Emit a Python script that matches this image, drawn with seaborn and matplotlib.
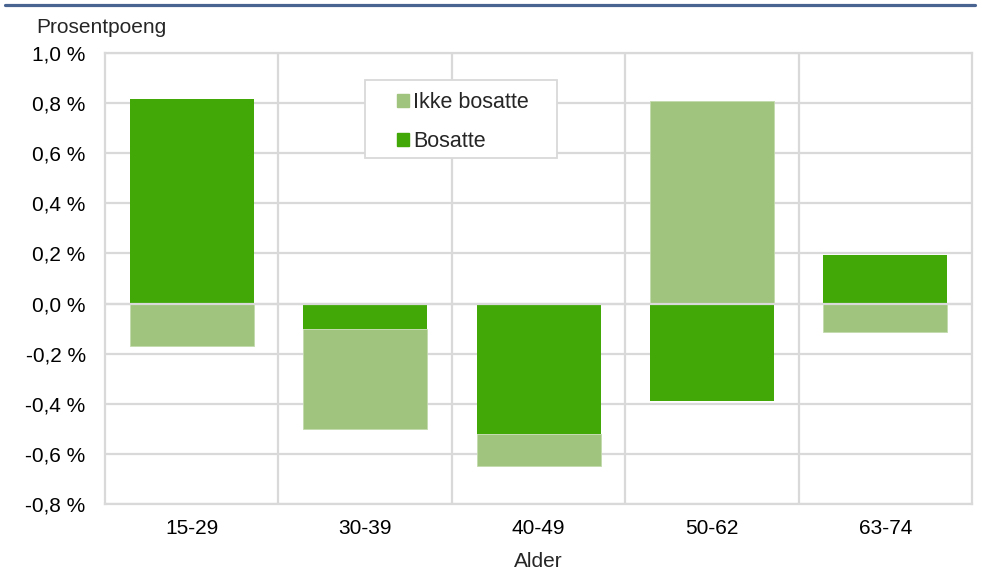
import numpy as np
import pandas as pd
import matplotlib.pyplot as plt
from matplotlib.lines import Line2D
from matplotlib.patches import Patch, Rectangle
import seaborn as sns

# data (prosentpoeng)
alder = ['15-29', '30-39', '40-49', '50-62', '63-74']
bosatte = [0.815, -0.10, -0.52, -0.39, 0.195]
ikke_bosatte = [-0.17, -0.40, -0.13, 0.81, -0.115]
yticks = [-0.8, -0.6, -0.4, -0.2, 0.0, 0.2, 0.4, 0.6, 0.8, 1.0]

dark = '#41A808'
light = '#A0C37E'
grid = '#D9D9D9'

sns.set_style('white')
plt.rcParams['font.family'] = ['Liberation Sans', 'DejaVu Sans']

df = pd.DataFrame({'Alder': alder, 'Bosatte': bosatte, 'Ikke bosatte': ikke_bosatte})
# stack positive and negative parts separately, Bosatte closest to zero
same_sign = np.sign(df['Bosatte']) == np.sign(df['Ikke bosatte'])
df['bunn'] = np.where(same_sign, df['Bosatte'], 0.0)

fig = plt.figure(figsize=(9.82, 5.76), dpi=100)
ax = fig.add_axes([0.107, 0.125, 0.883, 0.783])

sns.barplot(data=df, x='Alder', y='Bosatte', order=alder, color=dark,
            width=0.715, saturation=1, ax=ax, zorder=2, edgecolor='none')
sns.barplot(data=df, x='Alder', y='Ikke bosatte', order=alder, color=light,
            width=0.715, saturation=1, bottom=df['bunn'], ax=ax, zorder=2,
            edgecolor='#C3DBAE', linewidth=0.6)

ax.set_ylim(-0.8, 1.0)
ax.set_xlim(-0.5, len(alder) - 0.5)
ax.set_yticks(yticks)
ax.set_yticklabels([f'{v:.1f} %'.replace('.', ',') for v in yticks])

# grid
for v in yticks:
    ax.axhline(v, color=grid, lw=1.6, zorder=1)
for i in range(1, len(alder)):
    ax.axvline(i - 0.5, color=grid, lw=1.6, zorder=1)
ax.axhline(0, color=grid, lw=1.6, zorder=3)
for s in ax.spines.values():
    s.set_color(grid)
    s.set_linewidth(1.6)

ax.tick_params(axis='both', length=0, labelsize=15, colors='black')
ax.tick_params(axis='y', pad=14)
ax.tick_params(axis='x', pad=11)
ax.set_ylabel('')
ax.set_xlabel('Alder', fontsize=15, labelpad=10)

# legend box drawn separately so the padding matches
fig.add_artist(Rectangle((365 / 982, 1 - 158 / 576), 192 / 982, 78 / 576,
                         transform=fig.transFigure, facecolor='white',
                         edgecolor=grid, lw=1.3, zorder=4))
handles = [Patch(color=light, label='Ikke bosatte'), Patch(color=dark, label='Bosatte')]
leg = fig.legend(handles=handles, loc='upper left', bbox_to_anchor=(397 / 982, 1 - 92 / 576),
                 fontsize=15.5, frameon=False, handlelength=0.55,
                 handleheight=0.55, handletextpad=0.2, labelspacing=0.84,
                 borderpad=0, borderaxespad=0)
leg.set_zorder(5)

fig.text(0.037, 0.952, 'Prosentpoeng', fontsize=15, va='center', ha='left')
fig.add_artist(Line2D([0.005, 0.993], [0.991, 0.991], color='#4A6491', lw=2.3,
                      transform=fig.transFigure))

fig.savefig('out.png', dpi=100)
